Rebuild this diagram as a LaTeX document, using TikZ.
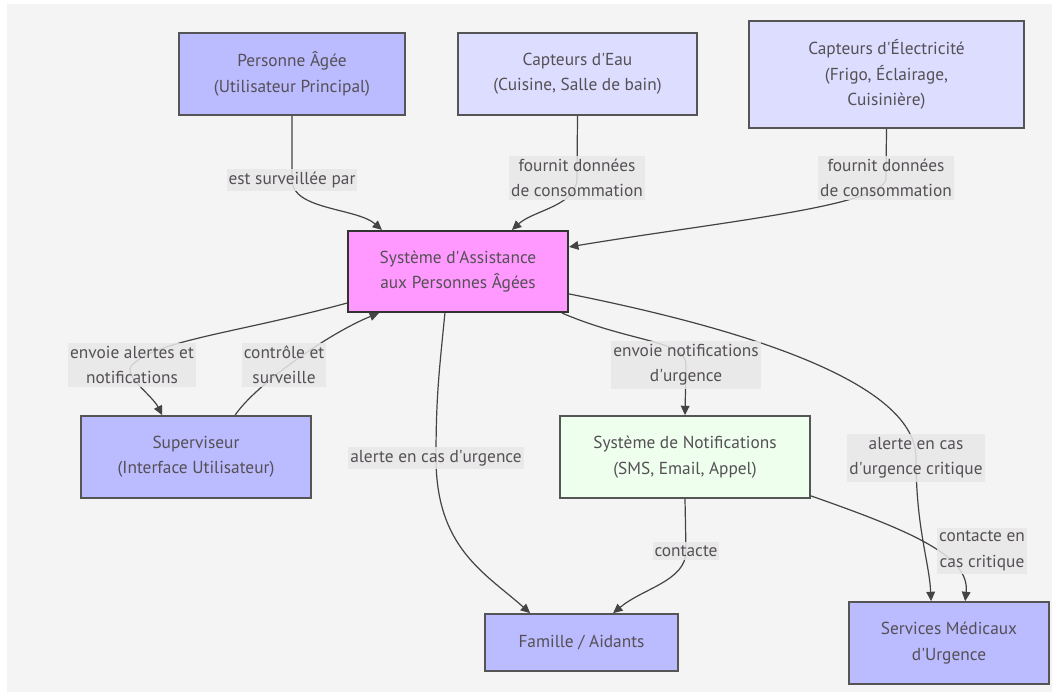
\documentclass[tikz,border=0pt]{standalone}
\usepackage{fontspec}
\setmainfont{PT Sans}
\usetikzlibrary{arrows.meta,calc}

\definecolor{canvas}{HTML}{F4F4F4}
\definecolor{actor}{HTML}{BBBBFF}
\definecolor{sensor}{HTML}{DDDDFF}
\definecolor{core}{HTML}{FF99FF}
\definecolor{notify}{HTML}{EEFFEE}
\definecolor{frame}{HTML}{555555}
\definecolor{ink}{HTML}{555055}
\definecolor{wire}{HTML}{444444}
\definecolor{tag}{HTML}{E8E8E8}

% straight apostrophe
\newcommand{\ap}{\textquotesingle}

\begin{document}
\begin{tikzpicture}[x=0.75pt,y=-0.75pt,
  wh/.style 2 args={minimum width=#1*0.75pt,minimum height=#2*0.75pt},
  txt/.style={font=\fontsize{13}{19}\selectfont,text=ink,align=center},
  box/.style={txt,draw=frame,line width=1.3pt,inner sep=0pt},
  hub/.style={box,draw=black!80,line width=1.6pt},
  lbl/.style={txt,fill=tag,fill opacity=0.85,text opacity=1,inner xsep=1.5pt,inner ysep=2.5pt},
  link/.style={draw=wire,line width=0.9pt,-{Triangle[length=7pt,width=6.5pt]}}
]
\useasboundingbox (0,0) rectangle (1061,693);
\fill[white] (0,0) rectangle (1061,693);
\fill[canvas] (7,4) rectangle (1052,692);

% ---- boxes ----
\node[box,fill=actor,wh={226}{82}]  (pa)    at (292,74)    {Personne Âgée\\(Utilisateur Principal)};
\node[box,fill=sensor,wh={239}{82}] (ce)    at (577.5,74)  {Capteurs d\ap Eau\\(Cuisine, Salle de bain)};
\node[box,fill=sensor,wh={275}{107}](cel)   at (886.5,74.5){Capteurs d\ap Électricité\\(Frigo, Éclairage,\\Cuisinière)};
\node[hub,fill=core,wh={220}{81}]   (sys)   at (458,271.5) {Système d\ap Assistance\\aux Personnes Âgées};
\node[box,fill=actor,wh={230}{82}]  (sup)   at (196,457)   {Superviseur\\(Interface Utilisateur)};
\node[box,fill=notify,wh={250}{82}] (notif) at (685,457)   {Système de Notifications\\(SMS, Email, Appel)};
\node[box,fill=actor,wh={193}{57}]  (fam)   at (581.5,642.5){Famille / Aidants};
\node[box,fill=actor,wh={200}{82}]  (med)   at (949,643)   {Services Médicaux\\d\ap Urgence};

% ---- attachment points on the boxes ----
\coordinate (sysA) at ($(sys.north west)+(35,0)$);
\coordinate (sysB) at ($(sys.north west)+(165,0)$);
\coordinate (sysR) at ($(sys.north east)+(0,17)$);
\coordinate (sysW) at ($(sys.south west)+(0,-10)$);
\coordinate (sysC) at ($(sys.south west)+(32,0)$);
\coordinate (sysD) at ($(sys.south west)+(98,0)$);
\coordinate (sysE) at ($(sys.south east)+(-7,0)$);
\coordinate (sysF) at ($(sys.north east)+(0,64)$);
\coordinate (supA) at ($(sup.north west)+(82,0)$);
\coordinate (supB) at ($(sup.north west)+(155,0)$);
\coordinate (famA) at ($(fam.north west)+(46,0)$);
\coordinate (famB) at ($(fam.north west)+(129,0)$);
\coordinate (ntfC) at ($(notif.south east)+(0,-3)$);
\coordinate (medA) at ($(med.north west)+(83,0)$);
\coordinate (medB) at ($(med.north west)+(117,0)$);

% ---- label anchors ----
\coordinate (l1)  at (292,180);
\coordinate (l2)  at (577,178);
\coordinate (l3)  at (886,178);
\coordinate (l4)  at (132,365);
\coordinate (l5)  at (284,365);
\coordinate (l6)  at (436,458);
\coordinate (l7)  at (686,365);
\coordinate (l8)  at (916,458);
\coordinate (l9)  at (686,551);
\coordinate (l10) at (982,551);

% ---- connectors ----
\draw[link] (pa.south) -- (l1) .. controls +(0,30) and +(-25,-22) .. (sysA);
\draw[link] (ce.south) -- (l2) .. controls +(0,28) and +(22,-20) .. (sysB);
\draw[link] (cel.south) -- (l3) .. controls +(0,28) and +(150,-25) .. (sysR);
\draw[link] (sysW) .. controls +(-110,30) and +(25,-25) .. (l4)
             .. controls +(-10,10) and +(-10,-20) .. (supA);
\draw[link] (supB) .. controls +(20,-30) and +(-50,20) .. (sysC);
\draw[link] (sysD) .. controls +(-6,60) and +(0,-60) .. (l6)
             .. controls +(0,90) and +(-45,-40) .. (famA);
\draw[link] (sysE) .. controls +(70,30) and +(0,-25) .. (l7) -- (notif.north);
\draw[link] (sysF) .. controls +(200,40) and +(0,-70) .. (l8)
             .. controls +(0,70) and +(-2,-40) .. (medA);
\draw[link] (notif.south) -- (l9) .. controls +(0,30) and +(30,-25) .. (famB);
\draw[link] (ntfC) .. controls +(100,35) and +(5,-45) .. (medB);

% ---- connector labels ----
\node[lbl] (t1)  at (l1)  {est surveillée par};
\node[lbl] (t2)  at (l2)  {fournit données\\de consommation};
\node[lbl] (t3)  at (l3)  {fournit données\\de consommation};
\node[lbl] (t4)  at (l4)  {envoie alertes et\\notifications};
\node[lbl] (t5)  at (l5)  {contrôle et\\surveille};
\node[lbl] (t6)  at (l6)  {alerte en cas d\ap urgence};
\node[lbl] (t7)  at (l7)  {envoie notifications\\d\ap urgence};
\node[lbl] (t8)  at (l8)  {alerte en cas\\d\ap urgence critique};
\node[lbl] (t9)  at (l9)  {contacte};
\node[lbl] (t10) at (l10) {contacte en\\cas critique};
\end{tikzpicture}
\end{document}
